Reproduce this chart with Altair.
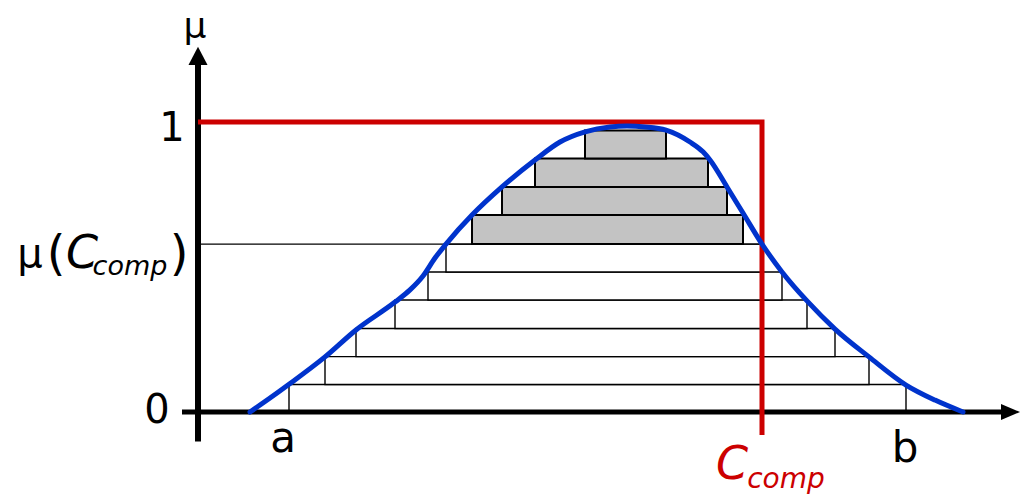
import altair as alt
import pandas as pd

# ---------------- values ----------------
# alpha-cut levels (membership) : bottom / top of each horizontal slice
CUT_BOTTOM = [0.0, 0.095, 0.191, 0.288, 0.386, 0.483, 0.579, 0.679, 0.776, 0.874]
CUT_TOP = [0.095, 0.191, 0.288, 0.386, 0.483, 0.579, 0.679, 0.776, 0.874, 0.971]
CUT_LEFT = [0.91, 1.27, 1.58, 1.97, 2.30, 2.48, 2.74, 3.04, 3.37, 3.87]
CUT_RIGHT = [7.08, 6.71, 6.37, 6.09, 5.84, 5.64, 5.45, 5.29, 5.10, 4.68]
CUT_SHADED = [False, False, False, False, False, False, True, True, True, True]

# membership function (blue curve)
CURVE_X = [0.52, 0.72, 0.90, 1.27, 1.58, 1.97, 2.12, 2.25, 2.37, 2.48, 2.74, 3.04,
           3.37, 3.62, 3.87, 4.12, 4.29, 4.47, 4.68, 4.92, 5.05, 5.12, 5.29, 5.45,
           5.64, 5.84, 6.09, 6.37, 6.71, 7.08, 7.37, 7.65]
CURVE_MU = [0.000, 0.048, 0.093, 0.190, 0.283, 0.379, 0.421, 0.469, 0.531, 0.579,
            0.679, 0.776, 0.869, 0.931, 0.966, 0.983, 0.986, 0.983, 0.972, 0.931,
            0.897, 0.869, 0.776, 0.686, 0.579, 0.483, 0.383, 0.286, 0.190, 0.093,
            0.041, 0.000]

C_COMP = 5.64
MU_C_COMP = 0.579
RED_BOTTOM = -0.079

# axis geometry
X_AXIS = [-0.16, 8.05]
Y_AXIS = [-0.102, 1.207]
X_ARROW = [8.125, 0.0]
Y_ARROW = [0.0, 1.228]

# labels
PLAIN_TEXT = ["μ", "1", "0", "a", "b", "μ", "(", ")"]
PLAIN_X = [-0.03, -0.26, -0.41, 0.85, 7.07, -1.68, -1.42, -0.19]
PLAIN_Y = [1.29, 0.933, -0.038, -0.138, -0.172, 0.50, 0.49, 0.49]
PLAIN_SIZE = [36, 40, 40, 42, 42, 40, 48, 48]

ITAL_TEXT = ["C", "comp"]
ITAL_X = [-1.16, -0.68]
ITAL_Y = [0.497, 0.472]
ITAL_SIZE = [46, 27]

RED_TEXT = ["C", "comp"]
RED_X = [5.34, 5.88]
RED_Y = [-0.231, -0.262]
RED_SIZE = [46, 28]

BLUE = "#0033cc"
RED = "#cc0000"
GRAY = "#c3c3c3"
FONT = "DejaVu Sans"

# ---------------- chart ----------------
xs = alt.Scale(domain=[-1.9, 8.22], nice=False, zero=False)
ys = alt.Scale(domain=[-0.28966, 1.39310], nice=False, zero=False)


def X(f):
    return alt.X(f, type="quantitative", scale=xs, axis=None)


def Y(f):
    return alt.Y(f, type="quantitative", scale=ys, axis=None)


cuts = pd.DataFrame({"l": CUT_LEFT, "r": CUT_RIGHT, "b": CUT_BOTTOM,
                     "t": CUT_TOP, "shaded": CUT_SHADED})
white = alt.Chart(cuts[~cuts.shaded]).mark_rect(
    fill="white", stroke="black", strokeWidth=1.4
).encode(x=X("l"), x2="r", y=Y("b"), y2="t")
gray = alt.Chart(cuts[cuts.shaded]).mark_rect(
    fill=GRAY, stroke="black", strokeWidth=2
).encode(x=X("l"), x2="r", y=Y("b"), y2="t")

mu_line = alt.Chart(pd.DataFrame({"a": [0.0], "b": [C_COMP], "y": [MU_C_COMP]})).mark_rule(
    color="black", strokeWidth=1.3
).encode(x=X("a"), x2="b", y=Y("y"))

x_axis = alt.Chart(pd.DataFrame({"a": [X_AXIS[0]], "b": [X_AXIS[1]], "y": [0.0]})).mark_rule(
    color="black", strokeWidth=5
).encode(x=X("a"), x2="b", y=Y("y"))
y_axis = alt.Chart(pd.DataFrame({"x": [0.0], "a": [Y_AXIS[0]], "b": [Y_AXIS[1]]})).mark_rule(
    color="black", strokeWidth=6
).encode(x=X("x"), y=Y("a"), y2="b")

x_arrow = alt.Chart(pd.DataFrame({"x": [X_ARROW[0]], "y": [X_ARROW[1]]})).mark_point(
    shape="M-1,-0.842L1,0L-1,0.842Z", filled=True, color="black", opacity=1, size=361
).encode(x=X("x"), y=Y("y"))
y_arrow = alt.Chart(pd.DataFrame({"x": [Y_ARROW[0]], "y": [Y_ARROW[1]]})).mark_point(
    shape="M0,-1L1.04,1L-1.04,1Z", filled=True, color="black", opacity=1, size=335
).encode(x=X("x"), y=Y("y"))

red = alt.Chart(pd.DataFrame({"x": [0.0, C_COMP, C_COMP], "y": [1.0, 1.0, RED_BOTTOM],
                              "o": [0, 1, 2]})).mark_line(
    color=RED, strokeWidth=5, strokeJoin="miter"
).encode(x=X("x"), y=Y("y"), order="o:Q")

curve = alt.Chart(pd.DataFrame({"x": CURVE_X, "y": CURVE_MU,
                                "o": list(range(len(CURVE_X)))})).mark_line(
    color=BLUE, strokeWidth=5, interpolate="monotone", strokeCap="round"
).encode(x=X("x"), y=Y("y"), order="o:Q")

plain = alt.Chart(pd.DataFrame({"t": PLAIN_TEXT, "x": PLAIN_X, "y": PLAIN_Y, "s": PLAIN_SIZE})).mark_text(
    font=FONT, align="center", baseline="alphabetic", color="black"
).encode(x=X("x"), y=Y("y"), text="t:N", size=alt.Size("s:Q", scale=None, legend=None))

ital = alt.Chart(pd.DataFrame({"t": ITAL_TEXT, "x": ITAL_X, "y": ITAL_Y, "s": ITAL_SIZE})).mark_text(
    font=FONT, fontStyle="italic", align="center", baseline="alphabetic", color="black"
).encode(x=X("x"), y=Y("y"), text="t:N", size=alt.Size("s:Q", scale=None, legend=None))

red_text = alt.Chart(pd.DataFrame({"t": RED_TEXT, "x": RED_X, "y": RED_Y, "s": RED_SIZE})).mark_text(
    font=FONT, fontStyle="italic", align="center", baseline="alphabetic", color=RED
).encode(x=X("x"), y=Y("y"), text="t:N", size=alt.Size("s:Q", scale=None, legend=None))

chart = alt.layer(
    white, gray, mu_line, x_axis, y_axis, x_arrow, y_arrow, red, curve, plain, ital, red_text
).properties(
    width=1012, height=488, padding=0,
    autosize=alt.AutoSizeParams(type="none"),
    background="white",
).configure_view(stroke=None)

chart.save("out.html", embed_options={"renderer": "svg", "actions": False})
